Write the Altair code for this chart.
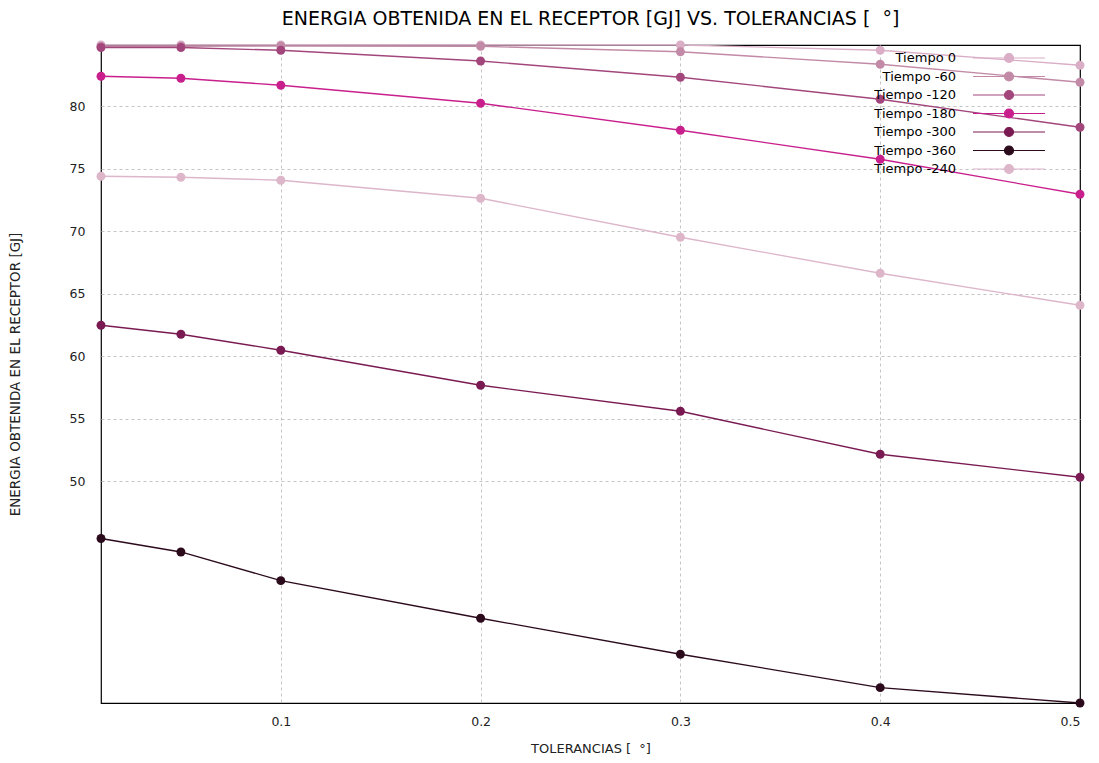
import altair as alt
import pandas as pd

tolerancias = [0.01, 0.05, 0.1, 0.2, 0.3, 0.4, 0.5]
series_names = ["Tiempo 0", "Tiempo -60", "Tiempo -120", "Tiempo -180",
                "Tiempo -300", "Tiempo -360", "Tiempo -240"]
t0 = [84.9, 84.9, 84.9, 84.9, 84.9, 84.48, 83.28]
t60 = [84.78, 84.8, 84.82, 84.8, 84.36, 83.36, 81.92]
t120 = [84.7, 84.7, 84.48, 83.62, 82.32, 80.56, 78.32]
t180 = [82.4, 82.24, 81.68, 80.24, 78.08, 75.76, 72.96]
t300 = [62.48, 61.76, 60.48, 57.68, 55.6, 52.16, 50.32]
t360 = [45.42, 44.34, 42.05, 39.04, 36.16, 33.49, 32.26]
t240 = [74.4, 74.32, 74.08, 72.64, 69.52, 66.64, 64.08]
series_values = [t0, t60, t120, t180, t300, t360, t240]
colors = ["#d9aec6", "#c28aa6", "#a2467c", "#c91f8d", "#7a1a52", "#2b0a1c", "#ddb6ca"]
y_ticks = [50, 55, 60, 65, 70, 75, 80]
x_ticks = [0.1, 0.2, 0.3, 0.4, 0.5]

rows = []
for name, vals in zip(series_names, series_values):
    for x, v in zip(tolerancias, vals):
        rows.append({"serie": name, "tol": x, "energia": v})
df = pd.DataFrame(rows)

FONT = "DejaVu Sans"
NB = "\u00a0"

xenc = alt.X("tol:Q", scale=alt.Scale(domain=[0.01, 0.5], nice=False, zero=False),
             axis=alt.Axis(values=x_ticks, format=".1f", title=f"TOLERANCIAS [ {NB}°]",
                           ticks=False, labelPadding=12, gridDash=[3, 3], gridColor="#c4c4c4",
                           gridOpacity={"condition": {"test": "datum.value >= 0.5", "value": 0}, "value": 1},
                           domain=False, titleY=45, titleBaseline="middle",
                           titleFontWeight="normal", titleFontSize=13))
yenc = alt.Y("energia:Q", scale=alt.Scale(domain=[32.26, 84.9], nice=False, zero=False),
             axis=alt.Axis(values=y_ticks, title="ENERGIA OBTENIDA EN EL RECEPTOR [GJ]",
                           ticks=False, labelPadding=16, gridDash=[3, 3], gridColor="#c4c4c4",
                           domain=False, titleX=-86, titleY=329, titleBaseline="middle",
                           titleFontWeight="normal", titleFontSize=13.5))
color = alt.Color("serie:N", scale=alt.Scale(domain=series_names, range=colors),
                  legend=alt.Legend(title=None, orient="none", legendX=898, legendY=3,
                                    symbolType="M-4,0L4,0M-0.5,0A0.5,0.5,0,1,0,0.5,0A0.5,0.5,0,1,0,-0.5,0Z",
                                    symbolSize=324, symbolStrokeWidth=1.2,
                                    labelAlign="right", labelOffset={"expr": "-63"}, labelFontSize=13,
                                    labelFont=FONT, labelColor="#000", rowPadding=1.5,
                                    padding=0))

base = alt.Chart(df)
lines = base.mark_line(strokeWidth=1.3).encode(x=xenc, y=yenc, color=color,
                                               order=alt.Order("tol:Q"))
points = base.mark_circle(size=80, opacity=1).encode(x=xenc, y=yenc, color=color)

chart = alt.layer(lines, points).properties(
    width=979, height=658,
    autosize=alt.AutoSizeParams(type="none"),
    padding={"left": 93, "top": 37, "right": 11, "bottom": 52},
    title=alt.Title(f"ENERGIA OBTENIDA EN EL RECEPTOR [GJ] VS. TOLERANCIAS [ {NB}°]",
                    fontSize=19, font=FONT, fontWeight="normal", offset=12),
).configure_view(stroke="#000", strokeWidth=1.2).configure_axis(
    labelFont=FONT, titleFont=FONT, labelFontSize=12.5, labelColor="#222", titleColor="#222"
)

chart.save("out.html", embed_options={"renderer": "svg", "actions": False})
